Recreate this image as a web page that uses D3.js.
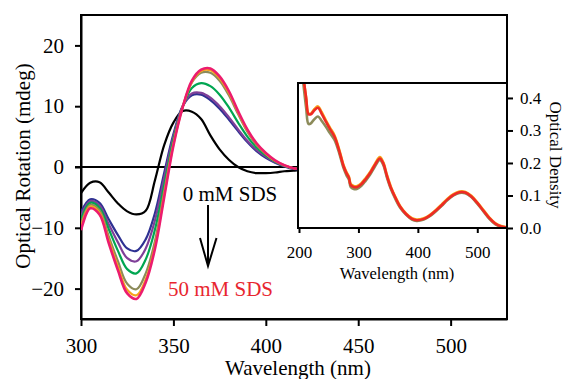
<!DOCTYPE html>
<html>
<head>
<meta charset="utf-8">
<script src="https://cdn.jsdelivr.net/npm/d3@7"></script>
<style>
body { margin: 0; background: #fff; }
text { font-family: "Liberation Serif", "Times New Roman", serif; }
</style>
</head>
<body>
<div id="chart"></div>
<script>
// CD spectra, 300-430 nm
var wavelengths = [300, 305, 310, 315, 320, 325, 330, 335, 340, 345, 350, 355, 360, 365, 370, 375, 380, 385, 390, 395, 400, 405, 410, 415, 420, 425, 430];
var cd0mM   = [-4.3, -2.6, -2.5, -4.2, -6.0, -7.3, -7.8, -7.2, -2.2, 3.6, 7.3, 9.2, 9.1, 7.9, 5.2, 2.9, 1.2, 0.0, -0.7, -1.0, -1.0, -0.9, -0.7, -0.6, -0.5, -0.5, -0.5];
var cdNavy  = [-7.4, -5.3, -5.9, -8.6, -11.2, -13.4, -13.8, -11.9, -7.6, -1.0, 5.4, 10.0, 11.8, 11.9, 11.0, 9.6, 7.8, 5.9, 4.1, 2.6, 1.5, 0.7, 0.1, -0.3, -0.5, -0.6, -0.6];
var cdPurple = [-8.0, -5.6, -6.3, -9.4, -12.4, -15.0, -15.5, -13.4, -8.8, -1.8, 5.0, 10.0, 12.1, 12.2, 11.4, 10.0, 8.2, 6.2, 4.3, 2.8, 1.7, 0.8, 0.2, -0.2, -0.4, -0.5, -0.6];
var cdGreen = [-8.6, -5.9, -6.7, -10.2, -13.8, -16.8, -17.5, -15.2, -10.3, -3.0, 4.5, 9.9, 13.0, 13.8, 13.3, 11.9, 9.8, 7.3, 5.0, 3.2, 1.9, 0.9, 0.2, -0.2, -0.4, -0.5, -0.5];
var cdOlive = [-9.3, -6.2, -7.1, -11.4, -15.5, -19.2, -20.1, -17.5, -12.2, -4.0, 4.0, 9.9, 13.9, 15.5, 15.5, 14.2, 11.8, 8.7, 5.8, 3.6, 2.1, 1.0, 0.2, -0.2, -0.4, -0.5, -0.5];
var cdOrange = [-9.9, -6.5, -7.5, -12.0, -16.4, -20.2, -21.1, -18.5, -13.0, -4.6, 3.7, 9.8, 14.0, 15.8, 15.9, 14.6, 12.2, 9.0, 6.0, 3.8, 2.2, 1.0, 0.3, -0.2, -0.4, -0.5, -0.5];
var cd50mM  = [-10.4, -6.8, -7.8, -12.5, -17.0, -20.8, -21.7, -19.0, -13.5, -5.0, 3.5, 9.8, 14.2, 16.0, 16.2, 14.9, 12.5, 9.2, 6.2, 3.9, 2.3, 1.1, 0.3, -0.2, -0.4, -0.5, -0.5];
var cdColors = ['#000000', '#2e3192', '#7f3f98', '#00a651', '#8c8b5a', '#f7a21b', '#ec1c6e'];

// absorption spectra (inset)
var uvWave   = [207, 212, 216, 220, 226, 232, 238, 245, 252, 260, 268, 275, 280, 284, 287, 292, 298, 305, 312, 320, 328, 336, 342, 348, 355, 362, 370, 380, 390, 398, 410, 420, 430, 440, 450, 460, 470, 480, 490, 500, 510, 520, 530, 540, 550];
var uvOlive  = [0.45, 0.37, 0.32, 0.322, 0.335, 0.343, 0.33, 0.312, 0.292, 0.27, 0.228, 0.184, 0.162, 0.149, 0.126, 0.12, 0.121, 0.13, 0.145, 0.165, 0.19, 0.209, 0.193, 0.155, 0.118, 0.09, 0.063, 0.041, 0.026, 0.022, 0.026, 0.036, 0.051, 0.068, 0.086, 0.1, 0.108, 0.107, 0.095, 0.075, 0.052, 0.029, 0.012, 0.004, 0.0];
var uvOrange = [0.47, 0.40, 0.352, 0.352, 0.366, 0.374, 0.357, 0.332, 0.309, 0.284, 0.239, 0.193, 0.171, 0.158, 0.135, 0.129, 0.129, 0.138, 0.153, 0.173, 0.198, 0.218, 0.201, 0.163, 0.125, 0.096, 0.068, 0.045, 0.030, 0.026, 0.030, 0.040, 0.055, 0.072, 0.090, 0.104, 0.112, 0.111, 0.099, 0.079, 0.056, 0.033, 0.015, 0.006, 0.002];
var uvRed    = [0.47, 0.40, 0.35, 0.35, 0.362, 0.37, 0.352, 0.328, 0.305, 0.28, 0.235, 0.19, 0.168, 0.155, 0.132, 0.126, 0.126, 0.135, 0.150, 0.170, 0.195, 0.214, 0.198, 0.160, 0.122, 0.094, 0.066, 0.043, 0.028, 0.024, 0.028, 0.038, 0.053, 0.070, 0.088, 0.102, 0.110, 0.109, 0.097, 0.077, 0.054, 0.031, 0.014, 0.005, 0.001];
var uvColors = ['#8c8b5a', '#f7a21b', '#ee2a24'];

var xTicks = [300, 350, 400, 450, 500];
var yTicks = [-20, -10, 0, 10, 20];
var insetXTicks = [200, 300, 400, 500];
var insetYTicks = [0.0, 0.1, 0.2, 0.3, 0.4];

var width = 564, height = 379;
var svg = d3.select('#chart').append('svg')
	.attr('width', width)
	.attr('height', height);

var plot = {left: 81, right: 507, top: 15, bottom: 319};

var x = d3.scaleLinear().domain([300, 530.5]).range([plot.left, plot.right]);
var y = d3.scaleLinear().domain([-25, 25]).range([plot.bottom, plot.top]);

svg.append('clipPath').attr('id', 'mainclip')
	.append('rect')
	.attr('x', plot.left).attr('y', plot.top)
	.attr('width', plot.right - plot.left).attr('height', plot.bottom - plot.top);

// axes
var xAxis = svg.append('g')
	.attr('transform', `translate(0,${plot.bottom})`)
	.call(d3.axisBottom(x).tickValues(xTicks).tickSize(7).tickSizeOuter(0).tickPadding(12).tickFormat(d3.format('d')));
var yAxis = svg.append('g')
	.attr('transform', `translate(${plot.left},0)`)
	.call(d3.axisLeft(y).tickValues(yTicks).tickSize(6).tickSizeOuter(0).tickPadding(11).tickFormat(d3.format('d')));

[xAxis, yAxis].forEach(function(g) {
	g.selectAll('path,line').attr('stroke', '#000').attr('stroke-width', 2);
	g.selectAll('text').attr('fill', '#000').style('font-size', '21px')
		.style('font-family', '"Liberation Serif", "Times New Roman", serif');
});

// frame
svg.append('rect')
	.attr('x', plot.left).attr('y', plot.top)
	.attr('width', plot.right - plot.left).attr('height', plot.bottom - plot.top)
	.attr('fill', 'none').attr('stroke', '#000').attr('stroke-width', 2);

// zero line
svg.append('line')
	.attr('x1', plot.left - 6).attr('x2', 300)
	.attr('y1', y(0)).attr('y2', y(0))
	.attr('stroke', '#000').attr('stroke-width', 2);

var cdLine = d3.line()
	.x((d, i) => x(wavelengths[i]))
	.y(d => y(d))
	.curve(d3.curveCatmullRom.alpha(0.5));

var cdSeries = [cd0mM, cdNavy, cdPurple, cdGreen, cdOlive, cdOrange, cd50mM];
svg.append('g')
	.attr('clip-path', 'url(#mainclip)')
	.attr('fill', 'none')
	.attr('stroke-linejoin', 'round')
	.selectAll('path')
	.data(cdSeries)
	.join('path')
	.attr('stroke', (d, i) => cdColors[i])
	.attr('stroke-width', (d, i) => i == 6 ? 2.6 : 2.2)
	.attr('d', d => cdLine(d));

// labels
svg.append('text')
	.attr('transform', 'translate(30,166) rotate(-90)')
	.attr('text-anchor', 'middle')
	.style('font-size', '21px')
	.text('Optical Rotation (mdeg)');

svg.append('text')
	.attr('x', 298).attr('y', 375)
	.attr('text-anchor', 'middle')
	.style('font-size', '21px')
	.text('Wavelength (nm)');

svg.append('text')
	.attr('x', 230).attr('y', 201)
	.attr('text-anchor', 'middle')
	.style('font-size', '21px')
	.text('0 mM SDS');

svg.append('text')
	.attr('x', 220.5).attr('y', 296)
	.attr('text-anchor', 'middle')
	.attr('fill', '#e8262f')
	.style('font-size', '21px')
	.text('50 mM SDS');

// arrow
svg.append('line')
	.attr('x1', 208).attr('x2', 208).attr('y1', 205).attr('y2', 265)
	.attr('stroke', '#000').attr('stroke-width', 2);
svg.append('path')
	.attr('d', 'M200,238L208,266L216.5,238')
	.attr('fill', 'none').attr('stroke', '#000').attr('stroke-width', 2);

// inset
var inset = {left: 298, right: 507, top: 83, bottom: 228};
var ix = d3.scaleLinear().domain([200, 550]).range([inset.left + 1, inset.right]);
var iy = d3.scaleLinear().domain([0, 0.446]).range([inset.bottom, inset.top]);

svg.append('rect')
	.attr('x', inset.left).attr('y', inset.top)
	.attr('width', inset.right - inset.left).attr('height', inset.bottom - inset.top)
	.attr('fill', '#fff');

svg.append('clipPath').attr('id', 'insetclip')
	.append('rect')
	.attr('x', inset.left).attr('y', inset.top)
	.attr('width', inset.right - inset.left).attr('height', inset.bottom - inset.top);

var uvLine = d3.line()
	.x((d, i) => ix(uvWave[i]))
	.y(d => iy(d))
	.curve(d3.curveCatmullRom.alpha(0.5));

svg.append('g')
	.attr('clip-path', 'url(#insetclip)')
	.attr('fill', 'none')
	.attr('stroke-linejoin', 'round')
	.selectAll('path')
	.data([uvOlive, uvOrange, uvRed])
	.join('path')
	.attr('stroke', (d, i) => uvColors[i])
	.attr('stroke-width', 2.6)
	.attr('d', d => uvLine(d));

svg.append('rect')
	.attr('x', inset.left).attr('y', inset.top)
	.attr('width', inset.right - inset.left).attr('height', inset.bottom - inset.top)
	.attr('fill', 'none').attr('stroke', '#000').attr('stroke-width', 2);

var ixAxis = svg.append('g')
	.attr('transform', `translate(0,${inset.bottom})`)
	.call(d3.axisBottom(ix).tickValues(insetXTicks).tickSize(5).tickSizeOuter(0).tickPadding(13).tickFormat(d3.format('d')));
var iyAxis = svg.append('g')
	.attr('transform', `translate(${inset.right},0)`)
	.call(d3.axisRight(iy).tickValues(insetYTicks).tickSize(6).tickSizeOuter(0).tickPadding(7).tickFormat(d3.format('.1f')));

[ixAxis, iyAxis].forEach(function(g) {
	g.select('.domain').remove();
	g.selectAll('line').attr('stroke', '#000').attr('stroke-width', 2);
	g.selectAll('text').attr('fill', '#000').style('font-size', '17px')
		.style('font-family', '"Liberation Serif", "Times New Roman", serif');
});

svg.append('text')
	.attr('x', 397).attr('y', 279)
	.attr('text-anchor', 'middle')
	.style('font-size', '16.5px')
	.text('Wavelength (nm)');

svg.append('text')
	.attr('transform', 'translate(550,155) rotate(90)')
	.attr('text-anchor', 'middle')
	.style('font-size', '17px')
	.text('Optical Density');
</script>
</body>
</html>
